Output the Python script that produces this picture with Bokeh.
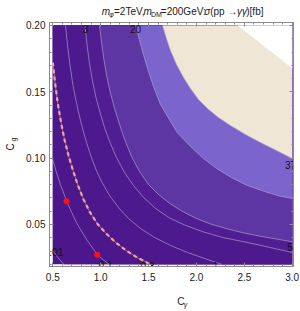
import numpy as np
from bokeh.plotting import figure
from bokeh.layouts import column, row
from bokeh.models import LinearAxis, FixedTicker
from bokeh.core.properties import value
from bokeh.embed import file_html
from bokeh.resources import INLINE

# ---------------- data ----------------
CGAMMA_DOMAIN = [0.5, 3.0]
CG_DOMAIN = [0.02, 0.20]

X_TICKS = [0.5, 1.0, 1.5, 2.0, 2.5, 3.0]
X_TICK_LABELS = ["0.5", "1.0", "1.5", "2.0", "2.5", "3.0"]
Y_TICKS = [0.05, 0.10, 0.15, 0.20]
Y_TICK_LABELS = ["0.05", "0.10", "0.15", "0.20"]

# contour lines of sigma (fb), traced as (C_gamma, C_g)
C001_X = [0.5, 0.54, 0.58, 0.615]
C001_Y = [0.0303, 0.0262, 0.0228, 0.0200]
C01_X = [0.5, 0.531, 0.58, 0.656, 0.75, 0.85, 0.966, 1.03, 1.09]
C01_Y = [0.099, 0.0909, 0.080, 0.0655, 0.051, 0.039, 0.0272, 0.0232, 0.0200]
C03_X = [0.5, 0.523, 0.552, 0.586, 0.622, 0.664, 0.711, 0.763, 0.821, 0.889,
         0.967, 1.056, 1.155, 1.264, 1.385, 1.520]
C03_Y = [0.1721, 0.1570, 0.1412, 0.1269, 0.1141, 0.1020, 0.0907, 0.0794, 0.0689,
         0.0591, 0.0504, 0.0433, 0.0365, 0.0305, 0.0249, 0.0200]
C1_X = [0.633, 0.654, 0.680, 0.711, 0.748, 0.789, 0.836, 0.889, 0.946, 1.014,
        1.092, 1.186, 1.291, 1.416, 1.562, 1.729, 1.907, 2.084, 2.262]
C1_Y = [0.2000, 0.1849, 0.1698, 0.1548, 0.1412, 0.1284, 0.1156, 0.1035, 0.0922,
        0.0817, 0.0719, 0.0628, 0.0545, 0.0470, 0.0402, 0.0342, 0.0289, 0.0244, 0.0200]
C3_X = [0.836, 0.857, 0.883, 0.915, 0.951, 0.993, 1.040, 1.097, 1.165, 1.249,
        1.343, 1.447, 1.573, 1.719, 1.886, 2.074, 2.272, 2.481, 2.700, 3.0]
C3_Y = [0.2000, 0.1857, 0.1714, 0.1578, 0.1457, 0.1344, 0.1231, 0.1118, 0.1005,
        0.0892, 0.0794, 0.0704, 0.0621, 0.0549, 0.0493, 0.0444, 0.0402, 0.0372,
        0.0338, 0.0289]
C5_X = [0.988, 1.009, 1.035, 1.066, 1.103, 1.145, 1.197, 1.254, 1.322, 1.405,
        1.499, 1.604, 1.729, 1.865, 2.001, 2.147, 2.309, 2.471, 2.655, 2.832, 3.0]
C5_Y = [0.2000, 0.1872, 0.1736, 0.1608, 0.1487, 0.1374, 0.1254, 0.1133, 0.1013,
        0.0900, 0.0802, 0.0726, 0.0655, 0.0594, 0.0545, 0.0504, 0.0470, 0.0440,
        0.0413, 0.0391, 0.0370]
C20_X = [1.364, 1.426, 1.489, 1.552, 1.620, 1.704, 1.799, 1.938, 2.074, 2.211,
         2.364, 2.532, 2.710, 2.866, 3.0]
C20_Y = [0.2000, 0.1834, 0.1676, 0.1540, 0.1412, 0.1307, 0.1193, 0.1088, 0.0997,
         0.0922, 0.0854, 0.0794, 0.0749, 0.0715, 0.0696]
C37_X = [1.646, 1.687, 1.729, 1.792, 1.865, 1.938, 2.022, 2.116, 2.230, 2.356,
         2.512, 2.669, 2.836, 3.0]
C37_Y = [0.2000, 0.1902, 0.1812, 0.1706, 0.1608, 0.1525, 0.1442, 0.1374, 0.1306,
         0.1246, 0.1178, 0.1118, 0.1058, 0.0997]
CTOP_X = [2.429, 2.586, 2.733, 2.879, 3.0]        # edge of the plotted range
CTOP_Y = [0.2000, 0.1913, 0.1827, 0.1748, 0.1676]

# dashed curve
DASH_X = list(C03_X)
DASH_Y = list(C03_Y)

# red benchmark points
PTS_X = [0.643, 0.964]
PTS_Y = [0.0676, 0.0272]

LEVEL_LABELS = ["0.01", "0.1", "0.3", "1", "5", "37", "3", "20"]
CONTOURS = [(C001_X, C001_Y), (C01_X, C01_Y), (C03_X, C03_Y), (C1_X, C1_Y),
            (C3_X, C3_Y), (C5_X, C5_Y), (C20_X, C20_Y), (C37_X, C37_Y),
            (CTOP_X, CTOP_Y)]

# ---------------- styles ----------------
BASE_COLOR = "#4a168a"
BAND_COLORS = ["#4b178b", "#4b178b", "#4c188c", "#4d1a8d", "#501e91",
               "#5d36a3", "#7b65cc", "#efe6d5", "#ffffff"]
FONT = "Liberation Sans"
FRAME = "#8c8c8c"
TXT = "#222222"

x0, x1 = CGAMMA_DOMAIN
y0, y1 = CG_DOMAIN


def close_region(xs, ys):
    """polygon of the part of the domain above/right of a contour"""
    px, py = list(xs), list(ys)
    if abs(py[-1] - y0) < 1e-9:
        px.append(x1); py.append(y0)
    px.append(x1); py.append(y1)
    if abs(px[0] - x0) < 1e-9 and py[0] < y1:
        px.append(x0); py.append(y1)
    return px, py


# ---------------- main plot ----------------
p = figure(width=280, height=272, x_range=(0.4655, 3.0135), y_range=(0.01834, 0.20226),
           output_backend="svg", toolbar_location=None, title=None,
           min_border_left=29, min_border_right=7, min_border_top=4, min_border_bottom=24)
p.grid.visible = False
p.outline_line_color = FRAME
p.background_fill_color = "white"
p.border_fill_color = "white"

p.quad(left=[x0], right=[x1], bottom=[y0], top=[y1], fill_color=BASE_COLOR, line_color=None)

polys_x, polys_y = [], []
for cx, cy in CONTOURS:
    a, b = close_region(cx, cy)
    polys_x.append(a); polys_y.append(b)
p.patches(xs=polys_x, ys=polys_y, fill_color=BAND_COLORS, line_color=None)

p.multi_line(xs=[c[0] for c in CONTOURS[:-1]], ys=[c[1] for c in CONTOURS[:-1]],
             line_color="#b3a8d6", line_alpha=0.7, line_width=0.9)

p.line(DASH_X, DASH_Y, line_color="#f4a390", line_width=2.2, line_dash="4 3")

p.scatter(PTS_X, PTS_Y, size=6, fill_color="#ff1010", line_color=None)

lab_x = [0.507, 1.051, 1.489, 2.199, 2.977, 2.982, 0.841, 1.364]
lab_y = [0.0289, 0.0198, 0.0190, 0.0190, 0.0334, 0.0945, 0.1977, 0.1977]
p.text(x=lab_x, y=lab_y, text=LEVEL_LABELS,
       text_font=value(FONT), text_font_size="10px", text_align="center",
       text_baseline="middle", text_color="#111111")

x_minor = list(np.round(np.arange(0.4, 3.05, 0.1), 3))
y_minor = list(np.round(np.arange(0.02, 0.205, 0.01), 3))
for ax, ticks, labels, minor in [(p.xaxis[0], X_TICKS, X_TICK_LABELS, x_minor),
                                 (p.yaxis[0], Y_TICKS, Y_TICK_LABELS, y_minor)]:
    ax.ticker = FixedTicker(ticks=ticks, minor_ticks=minor)
    ax.major_label_overrides = {t: l for t, l in zip(ticks, labels)}
    ax.major_label_text_font = FONT
    ax.major_label_text_font_size = "10px"
    ax.major_label_text_color = TXT
    ax.axis_line_color = FRAME
    ax.major_tick_line_color = FRAME
    ax.minor_tick_line_color = FRAME
    ax.major_tick_in = 4
    ax.major_tick_out = 0
    ax.minor_tick_in = 2
    ax.minor_tick_out = 0
p.xaxis[0].major_label_standoff = 6
p.yaxis[0].major_label_standoff = 4

for side, ticks, minor in [("above", X_TICKS, x_minor), ("right", Y_TICKS, y_minor)]:
    ax = LinearAxis(ticker=FixedTicker(ticks=ticks, minor_ticks=minor),
                    major_label_overrides={t: "" for t in ticks},
                    major_label_text_font_size="0px",
                    major_label_standoff=0, axis_line_color=FRAME,
                    major_tick_line_color=FRAME, minor_tick_line_color=FRAME,
                    major_tick_in=4, major_tick_out=0, minor_tick_in=2, minor_tick_out=0)
    p.add_layout(ax, side)


# ---------------- text strips (title and axis titles) ----------------
def strip(w, h):
    f = figure(width=w, height=h, x_range=(0, w), y_range=(0, h), output_backend="svg",
               toolbar_location=None, title=None, x_axis_type=None, y_axis_type=None,
               min_border=0)
    f.grid.visible = False
    f.outline_line_color = None
    f.background_fill_color = "white"
    f.border_fill_color = "white"
    return f


def put(f, text, x, y, size="10px", style="normal", angle=0.0, align="left"):
    f.text(x=[x], y=[y], text=[text], text_font=value(FONT), text_font_size=size,
           text_font_style=value(style), text_align=align, text_baseline="middle",
           angle=angle, text_color=TXT)


# approximate advance widths (em) used to lay the title pieces side by side
ADV = {"m": 0.833, "=": 0.584, "2": 0.556, "0": 0.556, "T": 0.611, "e": 0.556,
       "V": 0.667, ",": 0.278, "G": 0.778, ":": 0.278, " ": 0.278, "(": 0.333,
       ")": 0.333, "p": 0.556, "[": 0.278, "]": 0.278, "f": 0.278, "b": 0.556,
       "D": 0.722, "M": 0.833, "φ": 0.70, "σ": 0.60, "γ": 0.50, "→": 1.0}

# title strip: absolute rows 0..18, columns 20..300
t = strip(280, 18)
cursor = 80.0
for txt, fs, style, sub, gap in [("m", 10, "italic", False, 0.3), ("φ", 7, "italic", True, 0.5),
                                 ("=2TeV,", 10, "normal", False, 1.2),
                                 ("m", 10, "italic", False, 0.3),
                                 ("DM", 7, "normal", True, 0.5),
                                 ("=200GeV:", 10, "normal", False, 4.5),
                                 ("σ", 10, "italic", False, 0.8),
                                 ("(pp → ", 10, "normal", False, 0.8),
                                 ("γγ", 10, "italic", False, 0.6),
                                 (")[fb]", 10, "normal", False, 0.0)]:
    ay = 13.5 if sub else 11
    put(t, txt, cursor - 20, 18 - ay, size=f"{fs}px", style=style)
    cursor += sum(ADV.get(ch, 0.55) for ch in txt) * fs + gap

# x-axis title strip: absolute rows 290..311
xl = strip(280, 21)
put(xl, "C", 166.5 - 20, 311 - 300.5, size="10px")
put(xl, "γ", 174 - 20, 311 - 304, size="7px", style="italic")

# y-axis title strip: absolute columns 0..20
yl = strip(20, 311)
put(yl, "C", 9.5, 311 - 146.5, size="10px", angle=np.pi / 2, align="center")
put(yl, "g", 12.5, 311 - 139, size="7px", angle=np.pi / 2, align="center")

layout = row(yl, column(t, p, xl, spacing=0), spacing=0)
open("out.html", "w").write(file_html(layout, INLINE))
